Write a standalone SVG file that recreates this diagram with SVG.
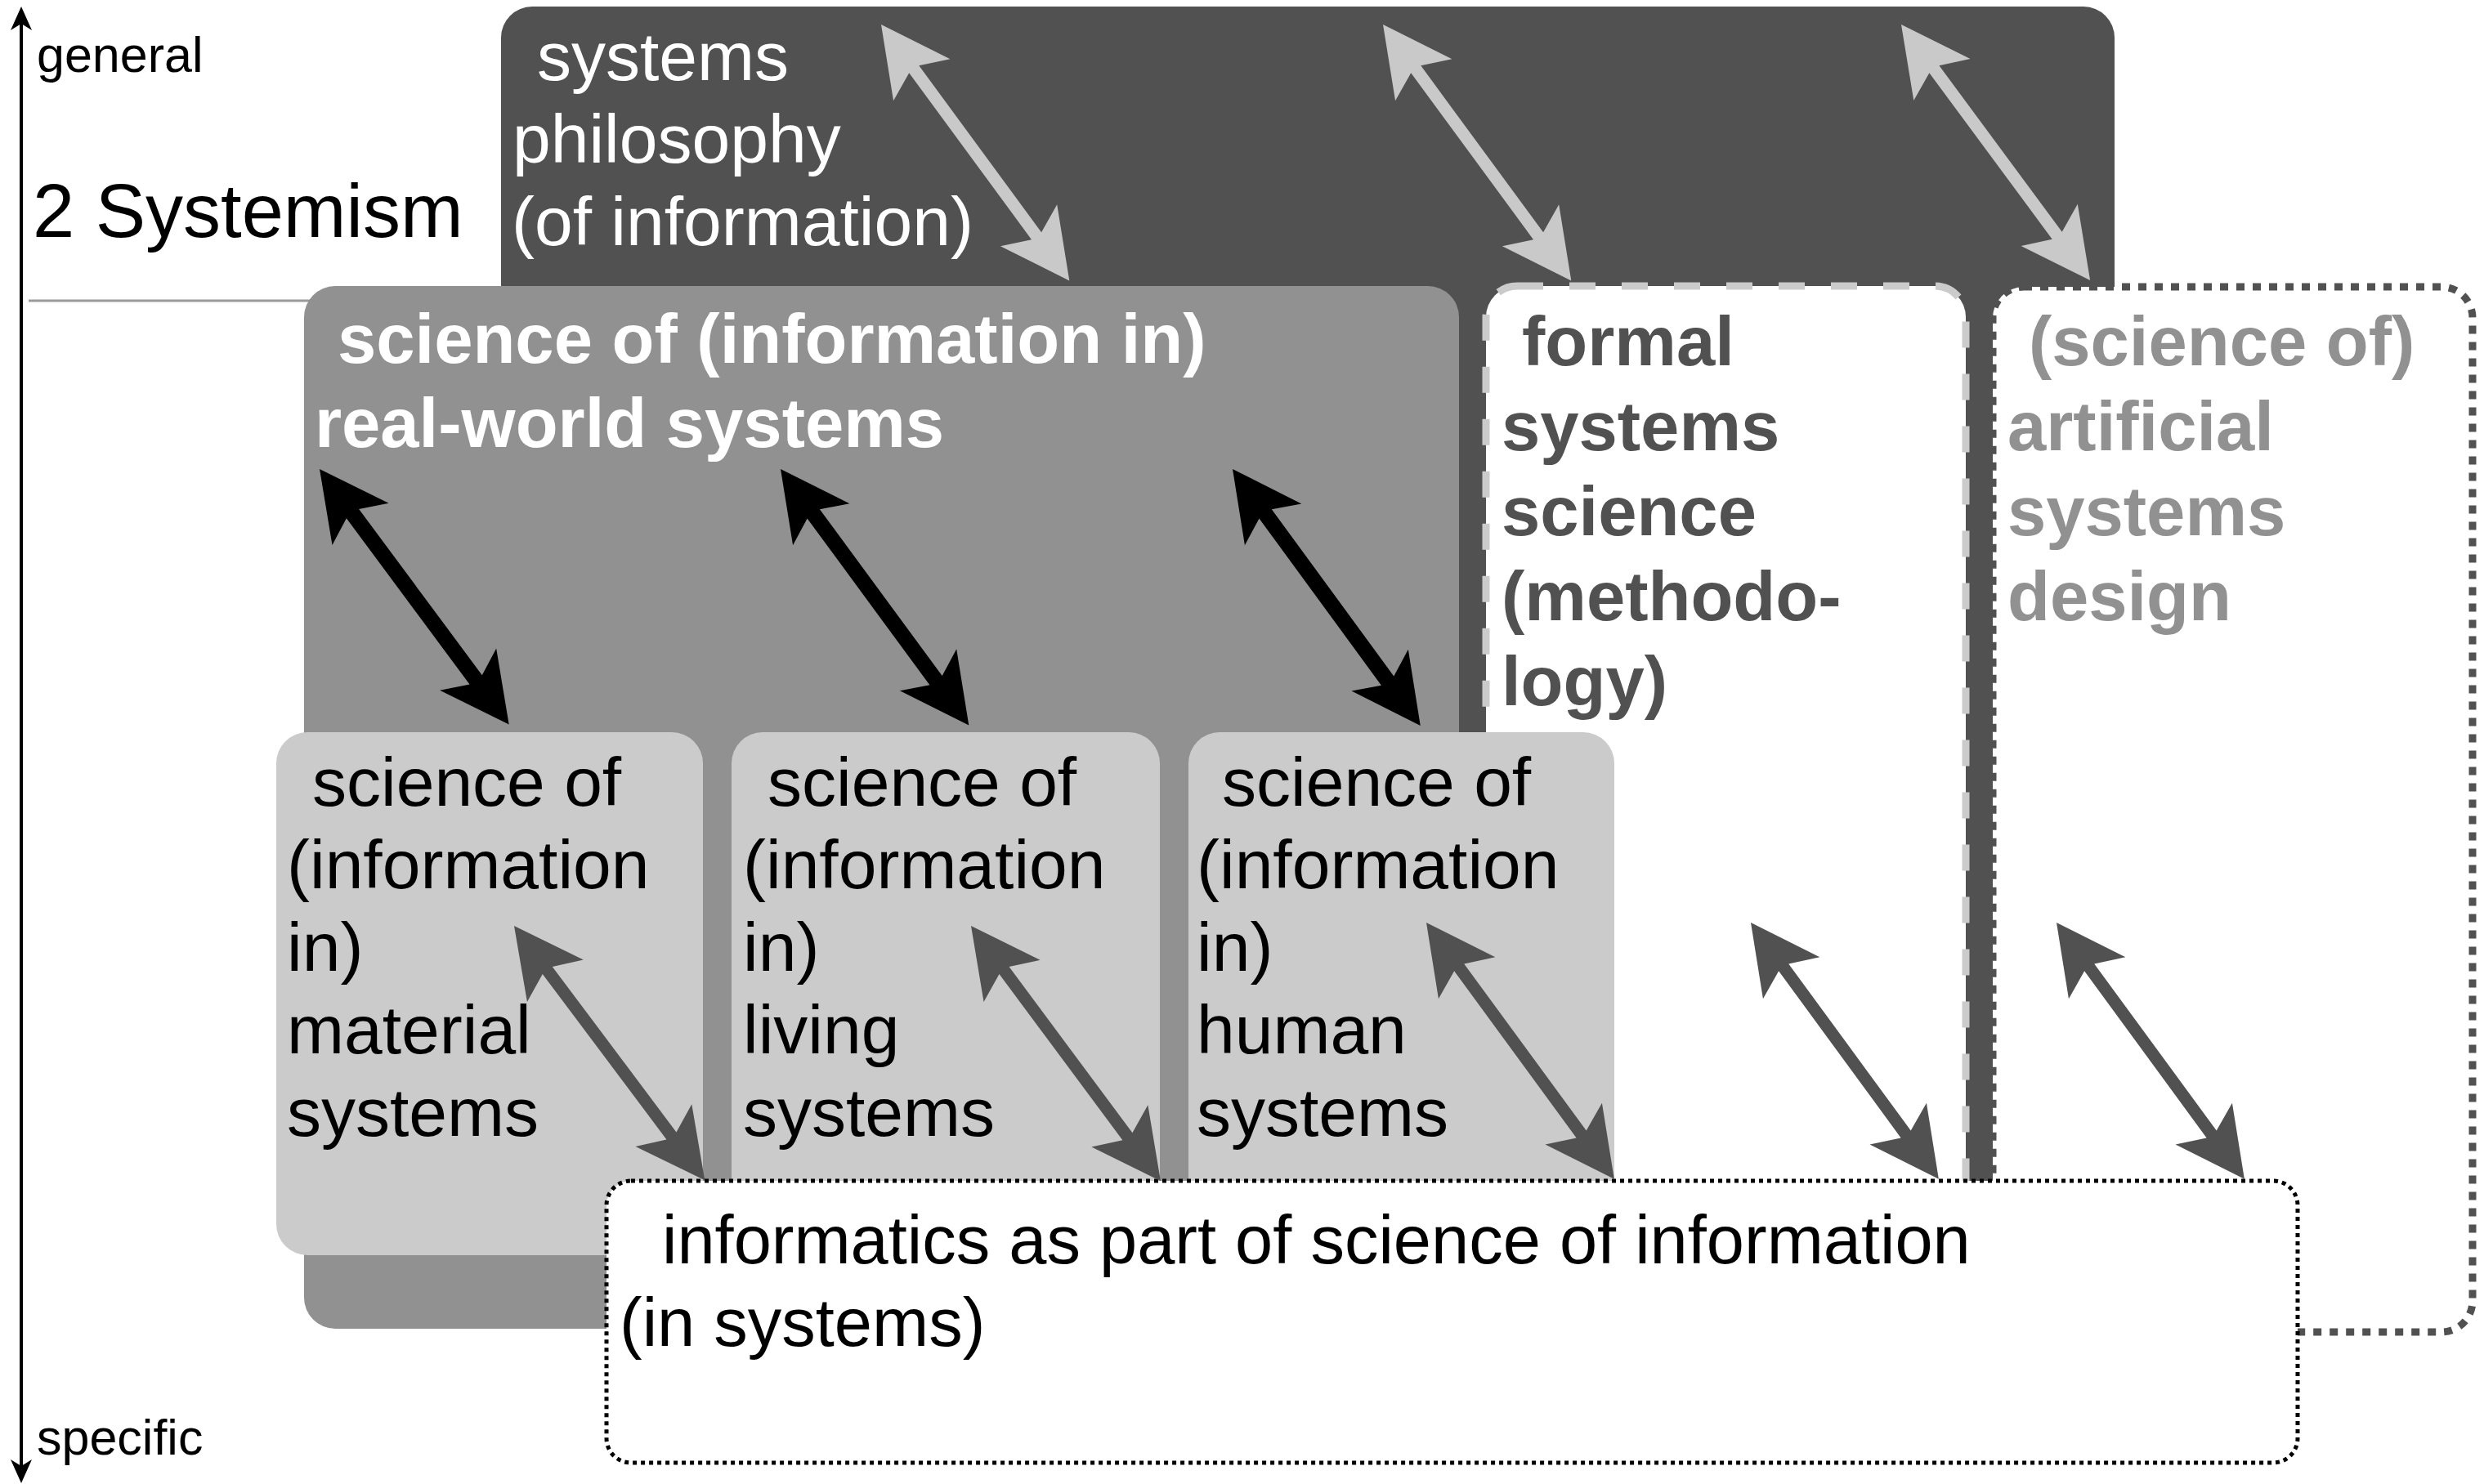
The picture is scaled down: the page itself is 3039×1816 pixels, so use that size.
<svg xmlns="http://www.w3.org/2000/svg" xmlns:xlink="http://www.w3.org/1999/xlink" width="3039" height="1816" viewBox="0 0 3039 1816">
  <style>
    text { font-family: "Liberation Sans", Arial, Helvetica, sans-serif; }
    .reg { font-size: 84px; font-weight: normal; }
    .reg-sm { font-size: 83px; font-weight: normal; }
    .bold { font-size: 85px; font-weight: bold; }
    .side { font-size: 61px; fill: #000; }
    .dark { fill: #515151; }
    .mid { fill: #919191; }
    .light { fill: #cbcbcb; }
    .white { fill: #ffffff; }
    .a-light { fill: #c9c9c9; }
    .a-black { fill: #000000; }
    .a-dark { fill: #515151; }
  </style>
  <defs>
    <!-- double-headed arrows laid along +x, tip to tip 389 units -->
    <path id="arrow" d="M0,0 L84,-43 L68,-7.5 L321,-7.5 L305,-43 L389,0 L305,43 L321,7.5 L68,7.5 L84,43 Z"/>
    <path id="arrow-bold" d="M0,0 L84,-43 L68,-9.5 L321,-9.5 L305,-43 L389,0 L305,43 L321,9.5 L68,9.5 L84,43 Z"/>
  </defs>

  <rect width="3039" height="1816" fill="#ffffff"/>

  <!-- general / specific axis -->
  <g id="axis">
    <line x1="26" y1="26" x2="26" y2="1797" stroke="#000" stroke-width="4"/>
    <polygon points="26,8 39,37 26,29 13,37" fill="#000"/>
    <polygon points="26,1815 39,1786 26,1794 13,1786" fill="#000"/>
    <text class="side" x="45" y="88">general</text>
    <text class="side" x="45" y="1780">specific</text>
    <text x="40" y="290" font-size="92" fill="#000">2 Systemism</text>
    <line x1="35" y1="368" x2="380" y2="368" stroke="#9a9a9a" stroke-width="3"/>
  </g>

  <g id="systems-philosophy">
    <rect class="dark" x="613" y="8" width="1974" height="1492" rx="38"/>
    <text class="reg white">
      <tspan x="657" y="98">systems</tspan>
      <tspan x="627" y="199">philosophy</tspan>
      <tspan x="626" y="300">(of information)</tspan>
    </text>
  </g>

  <g id="real-world-systems">
    <rect class="mid" x="372" y="350" width="1413" height="1276" rx="38"/>
    <text class="bold white">
      <tspan x="413" y="444">science of (information in)</tspan>
      <tspan x="385" y="547">real-world systems</tspan>
    </text>
  </g>

  <g id="formal-systems-science">
    <rect x="1818" y="350" width="587" height="1250" rx="38" fill="#ffffff" stroke="#cbcbcb" stroke-width="9" stroke-dasharray="32 32"/>
    <text class="bold dark">
      <tspan x="1862" y="447">formal</tspan>
      <tspan x="1837" y="551">systems</tspan>
      <tspan x="1837" y="655">science</tspan>
      <tspan x="1837" y="759">(methodo-</tspan>
      <tspan x="1837" y="863">logy)</tspan>
    </text>
  </g>

  <g id="artificial-systems-design">
    <rect x="2438" y="351" width="587" height="1279" rx="38" fill="#ffffff" stroke="#515151" stroke-width="9" stroke-dasharray="10 10"/>
    <text class="bold mid">
      <tspan x="2482" y="447">(science of)</tspan>
      <tspan x="2456" y="551">artificial</tspan>
      <tspan x="2456" y="655">systems</tspan>
      <tspan x="2456" y="759">design</tspan>
    </text>
  </g>

  <g id="material-systems">
    <rect class="light" x="338" y="896" width="522" height="640" rx="38"/>
    <text class="reg" fill="#000">
      <tspan x="382" y="986">science of</tspan>
      <tspan x="351" y="1087">(information</tspan>
      <tspan x="351" y="1188">in)</tspan>
      <tspan x="351" y="1289">material</tspan>
      <tspan x="351" y="1390">systems</tspan>
    </text>
  </g>

  <g id="living-systems">
    <rect class="light" x="895" y="896" width="524" height="640" rx="38"/>
    <text class="reg" fill="#000">
      <tspan x="939" y="986">science of</tspan>
      <tspan x="909" y="1087">(information</tspan>
      <tspan x="909" y="1188">in)</tspan>
      <tspan x="909" y="1289">living</tspan>
      <tspan x="909" y="1390">systems</tspan>
    </text>
  </g>

  <g id="human-systems">
    <rect class="light" x="1454" y="896" width="521" height="640" rx="38"/>
    <text class="reg" fill="#000">
      <tspan x="1495" y="986">science of</tspan>
      <tspan x="1464" y="1087">(information</tspan>
      <tspan x="1464" y="1188">in)</tspan>
      <tspan x="1464" y="1289">human</tspan>
      <tspan x="1464" y="1390">systems</tspan>
    </text>
  </g>

  <g id="informatics">
    <rect x="742" y="1445" width="2069" height="345" rx="30" fill="#ffffff" stroke="#000" stroke-width="5" stroke-dasharray="5 5"/>
    <text class="reg-sm" fill="#000">
      <tspan x="810" y="1546">informatics as part of science of information</tspan>
      <tspan x="758" y="1647">(in systems)</tspan>
    </text>
  </g>

  <g id="connectors">
    <!-- philosophy to the three branches -->
    <use xlink:href="#arrow" class="a-light" transform="translate(1078,30) rotate(53.7)"/>
    <use xlink:href="#arrow" class="a-light" transform="translate(1692,30) rotate(53.7)"/>
    <use xlink:href="#arrow" class="a-light" transform="translate(2326,30) rotate(53.55)"/>
    <!-- real-world science to its three domains -->
    <use xlink:href="#arrow-bold" class="a-black" transform="translate(391,574) rotate(53.45)"/>
    <use xlink:href="#arrow-bold" class="a-black" transform="translate(955,574) rotate(53.7)"/>
    <use xlink:href="#arrow-bold" class="a-black" transform="translate(1508,574) rotate(53.8)"/>
    <!-- every field to informatics -->
    <use xlink:href="#arrow" class="a-dark" transform="translate(629,1133) rotate(53.16)"/>
    <use xlink:href="#arrow" class="a-dark" transform="translate(1188,1133) rotate(53.4)"/>
    <use xlink:href="#arrow" class="a-dark" transform="translate(1745,1129) rotate(53.78)"/>
    <use xlink:href="#arrow" class="a-dark" transform="translate(2142,1129) rotate(53.78)"/>
    <use xlink:href="#arrow" class="a-dark" transform="translate(2516,1129) rotate(53.78)"/>
  </g>
</svg>
